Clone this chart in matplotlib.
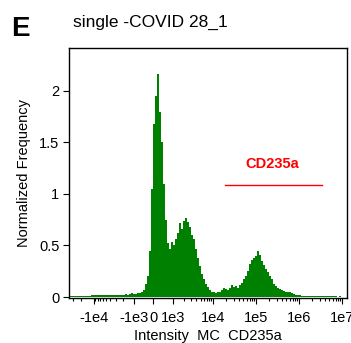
import numpy as np
import matplotlib
matplotlib.use("Agg")
import matplotlib.pyplot as plt
from matplotlib.ticker import FixedLocator, NullFormatter

plt.rcParams['font.family'] = ['Liberation Sans', 'DejaVu Sans']

# ---------------- data ----------------
panel_label = "E"
title = "single -COVID 28_1"
xlabel = "Intensity  MC  CD235a"
ylabel = "Normalized Frequency"
gate_label = "CD235a"
gate_range = [1.9e4, 3.3e6]
gate_level = 1.09

major_ticks = [-1e4, -1e3, 0, 1e3, 1e4, 1e5, 1e6, 1e7]
major_labels = ["-1e4", "-1e3", "0", "1e3", "1e4", "1e5", "1e6", "1e7"]
yticks = [0, 0.5, 1, 1.5, 2]
ytick_labels = ["0", "0.5", "1", "1.5", "2"]

# histogram heights, bins evenly spaced on the display (arcsinh) scale, left -> right
heights = [
    0.005, 0.005, 0.008, 0.006, 0.008, 0.010, 0.008, 0.010, 0.012, 0.010,
    0.012, 0.015, 0.020, 0.018, 0.022, 0.020, 0.018, 0.015, 0.018, 0.020,
    0.015, 0.018, 0.020, 0.022, 0.020, 0.018, 0.022, 0.020, 0.025, 0.022,
    0.030, 0.035, 0.025, 0.030, 0.035, 0.040, 0.050, 0.070, 0.130, 0.200,
    0.450, 1.050, 1.680, 1.950, 2.160, 1.800, 1.500, 1.100, 0.750, 0.520,
    0.470, 0.530, 0.500, 0.560, 0.620, 0.720, 0.660, 0.740, 0.770, 0.730,
    0.680, 0.600, 0.560, 0.470, 0.380, 0.300, 0.220, 0.170, 0.130, 0.100,
    0.070, 0.050, 0.045, 0.040, 0.045, 0.050, 0.070, 0.090, 0.080, 0.070,
    0.090, 0.120, 0.100, 0.110, 0.090, 0.120, 0.140, 0.170, 0.200, 0.250,
    0.320, 0.360, 0.380, 0.400, 0.450, 0.410, 0.350, 0.310, 0.270, 0.240,
    0.200, 0.170, 0.130, 0.110, 0.090, 0.080, 0.065, 0.055, 0.050, 0.045,
    0.050, 0.035, 0.030, 0.022, 0.018, 0.015, 0.012, 0.010, 0.009, 0.008,
    0.009, 0.008, 0.007, 0.008, 0.007, 0.006, 0.007, 0.006, 0.006, 0.005,
    0.006, 0.005, 0.005, 0.005, 0.004, 0.005, 0.004, 0.004, 0.004,
]

# ---------------- scale ----------------
C = 808.0
def fwd(x):
    return np.arcsinh(np.asarray(x, dtype=float) / C) / np.log(10)
def inv(t):
    return C * np.sinh(np.asarray(t, dtype=float) * np.log(10))

t_lo, t_hi = -1.965, 4.50
edges = inv(np.linspace(t_lo, t_hi, len(heights) + 1))

minor = []
for k in (3, 4):
    for m in range(2, 10):
        minor.append(-m * 10 ** k)
for k in (3, 4, 5, 6):
    for m in range(2, 10):
        minor.append(m * 10 ** k)

# ---------------- figure ----------------
fig = plt.figure(figsize=(3.51, 3.43), dpi=100)
ax = fig.add_axes([69 / 351, 1 - 298 / 343, 278 / 351, 250 / 343])
ax.set_xscale('function', functions=(fwd, inv))

ax.stairs(heights, edges, fill=True, color='#008000', linewidth=0)

ax.plot(gate_range, [gate_level, gate_level], color='red', lw=1.0)
ax.text(np.sqrt(gate_range[0] * gate_range[1]) * 0.95, gate_level + 0.2, gate_label,
        color='red', fontsize=10.5, fontweight='bold', ha='center', va='center')

ax.set_xlim(inv(t_lo), inv(t_hi))
ax.set_ylim(-0.0097, 2.417)

ax.xaxis.set_major_locator(FixedLocator(major_ticks))
ax.set_xticklabels(major_labels)
ax.xaxis.set_minor_locator(FixedLocator(minor))
ax.xaxis.set_minor_formatter(NullFormatter())
ax.set_yticks(yticks)
ax.set_yticklabels(ytick_labels)

ax.tick_params(axis='both', which='major', length=4, width=0.8, labelsize=10.5)
ax.tick_params(axis='x', which='major', pad=5)
ax.tick_params(axis='y', which='major', pad=3)
ax.tick_params(axis='x', which='minor', length=2.5, width=0.8)
for s in ax.spines.values():
    s.set_linewidth(1.0)

ax.set_xlabel(xlabel, fontsize=10.5, labelpad=3)
ax.set_ylabel(ylabel, fontsize=10.5, labelpad=6)

fig.text(11 / 351, 1 - 29 / 343, panel_label, fontsize=20, fontweight='bold', ha='left', va='center')
fig.text(73 / 351, 1 - 22 / 343, title, fontsize=12.5, ha='left', va='center')

fig.savefig("out.png", dpi=100)
